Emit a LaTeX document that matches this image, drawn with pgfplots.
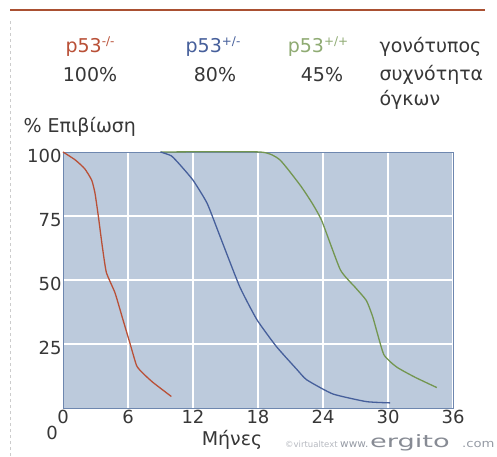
\documentclass[border=0pt]{standalone}
\usepackage{fontspec}
\setmainfont{DejaVu Sans}
\usepackage{pgfplots}
\pgfplotsset{compat=1.18}
\definecolor{bgblue}{RGB}{188,202,220}
\definecolor{axblue}{RGB}{110,135,175}
\definecolor{cred}{RGB}{185,80,55}
\definecolor{cblue}{RGB}{70,95,155}
\definecolor{cgreen}{RGB}{115,150,80}
\definecolor{txt}{RGB}{55,55,55}
\definecolor{topline}{RGB}{170,80,50}
\definecolor{wm}{RGB}{150,155,165}
\newcommand{\gsup}[1]{\raisebox{7pt}{\fontsize{12}{12}\selectfont #1}}
\begin{document}
\begin{tikzpicture}[x=1pt,y=1pt]
\useasboundingbox (0,0) rectangle (497,456);
\fill[white] (0,0) rectangle (497,456);
\draw[topline, line width=1.3pt] (10,446) -- (485,446);
\draw[black!20, dashed, line width=0.8pt] (10,0) -- (10,436);
\coordinate (O) at (63,48);
\begin{axis}[
  at={(O)}, anchor=origin,
  scale only axis, width=390pt, height=256pt,
  xmin=0, xmax=36, ymin=0, ymax=100,
  xtick={0,6,12,18,24,30,36},
  ytick={25,50,75,100},
  grid=major,
  major grid style={white, line width=1.2pt},
  axis background/.style={fill=bgblue},
  axis line style={axblue, line width=1pt},
  tick style={draw=none},
  ticklabel style={font=\fontsize{18}{18}\selectfont, text=txt},
  /pgf/number format/assume math mode=true,
  xticklabel style={yshift=-1pt, inner sep=1pt},
  yticklabel style={xshift=2pt, yshift=-4pt},
  clip=false,
]
\addplot[cred, line width=1.3pt, smooth, tension=0.3] coordinates {
(0,100) (1.1,97) (2.0,93.5) (2.65,89) (2.95,84) (3.26,75) (3.6,64) (4.0,53)
(4.8,45) (5.5,35) (6.2,25) (6.8,16.5) (7.4,13.5) (8.3,10) (10.0,4.5)};
\addplot[cgreen, line width=1.3pt, smooth, tension=0.3] coordinates {
(9.0,100) (18.2,100) (20.0,97) (21.9,87) (23.0,80) (23.9,73) (25.6,54) (27.0,47)
(28.0,42) (28.6,35.5) (29.6,21) (30.8,16) (32.5,12) (34.5,8)};
\addplot[cblue, line width=1.3pt, smooth, tension=0.3] coordinates {
(9.0,100) (10.0,98.5) (10.8,95) (12.0,89) (13.3,80) (14.5,67) (16.3,47.5)
(17.9,34.5) (19.7,24) (21.6,15) (22.5,11) (24.9,5.5) (28.0,2.5) (30.2,2)};
\end{axis}
\node[text=txt, font=\fontsize{18}{18}\selectfont] at (52,23) {0};
\node[text=txt, font=\fontsize{19}{19}\selectfont, anchor=west] at (20,329) {\% Επιβίωση};
\node[text=txt, font=\fontsize{19}{19}\selectfont] at (232,16) {Μήνες};
\node[text=wm!70!white, font=\fontsize{8.5}{8.5}\selectfont, anchor=base west, inner sep=0] at (285,9) {©virtualtext};
\node[text=wm, font=\fontsize{10.5}{10.5}\selectfont, anchor=base west, inner sep=0] at (340,9) {www.};
\node[text=wm!90!black, font=\fontsize{17}{17}\selectfont, anchor=base west, inner sep=0] at (370,9) {\scalebox{1.6}[1]{ergito}};
\node[text=wm, font=\fontsize{11}{11}\selectfont, anchor=base west, inner sep=0] at (462,9) {\scalebox{1.2}[1]{.com}};
% header
\begin{scope}[font=\fontsize{19}{19}\selectfont]
\node[text=cred] at (90,409) {p53\gsup{-/-}};
\node[text=cblue] at (213,409) {p53\gsup{+/-}};
\node[text=cgreen!80!white] at (318,409) {p53\gsup{+/+}};
\node[text=txt, anchor=west] at (376,409) {γονότυπος};
\node[text=txt] at (90,381) {100\%};
\node[text=txt] at (215,381) {80\%};
\node[text=txt] at (322,381) {45\%};
\node[text=txt, anchor=west] at (376,381) {συχνότητα};
\node[text=txt, anchor=west] at (376,356) {όγκων};
\end{scope}
\end{tikzpicture}
\end{document}
